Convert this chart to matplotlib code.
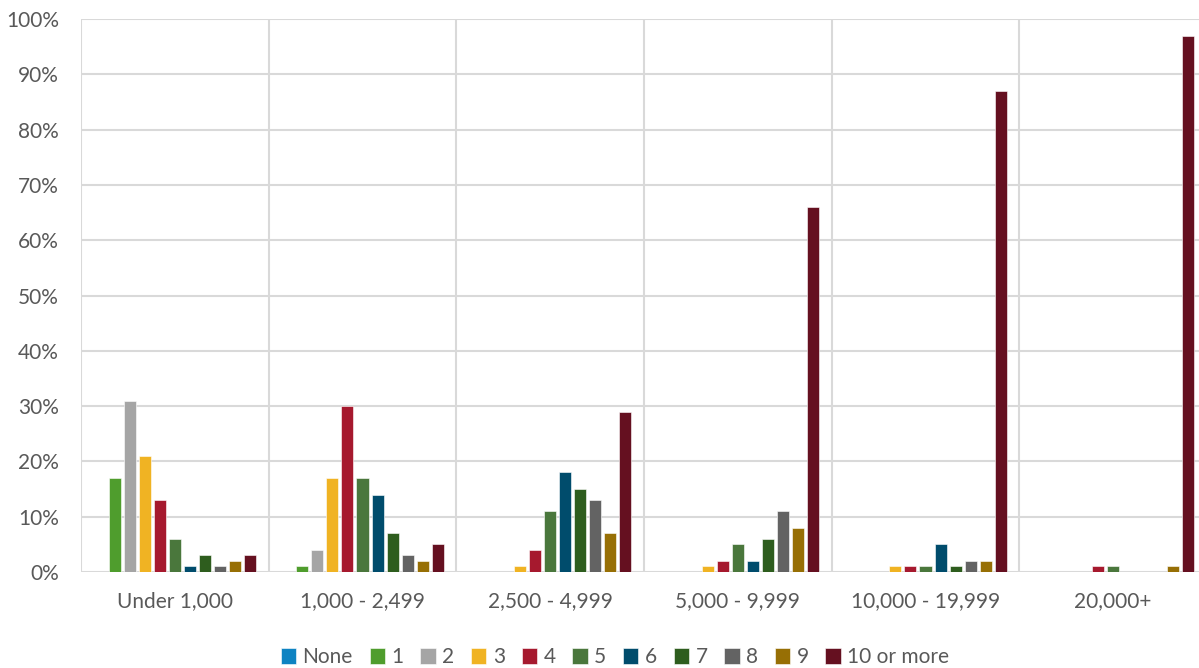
import numpy as np
import matplotlib
import matplotlib.pyplot as plt
from matplotlib.ticker import PercentFormatter

matplotlib.use("Agg")

categories = ["Under 1,000", "1,000 - 2,499", "2,500 - 4,999",
              "5,000 - 9,999", "10,000 - 19,999", "20,000+"]
series = ["None", "1", "2", "3", "4", "5", "6", "7", "8", "9", "10 or more"]

# share of each series per category, in percent
none_ = [0, 0, 0, 0, 0, 0]
one = [17, 1, 0, 0, 0, 0]
two = [31, 4, 0, 0, 0, 0]
three = [21, 17, 1, 1, 1, 0]
four = [13, 30, 4, 2, 1, 1]
five = [6, 17, 11, 5, 1, 1]
six = [1, 14, 18, 2, 5, 0]
seven = [3, 7, 15, 6, 1, 0]
eight = [1, 3, 13, 11, 2, 0]
nine = [2, 2, 7, 8, 2, 1]
ten_plus = [3, 5, 29, 66, 87, 97]

values = [none_, one, two, three, four, five, six, seven, eight, nine, ten_plus]
colors = ["#0E83C2", "#4F9D2D", "#A5A5A5", "#F0B323", "#A6192E", "#4A773C",
          "#004C6C", "#2E5D1E", "#636363", "#976F05", "#651020"]

plt.rcParams["font.family"] = ["Lato", "DejaVu Sans"]
text_color = "#595959"
grid_color = "#D9D9D9"

fig = plt.figure(figsize=(11.99, 6.68), dpi=100)
# right side of the plot runs past the figure edge
ax = fig.add_axes([81 / 1199, (668 - 572) / 668, 1126 / 1199, 553 / 668])

x = np.arange(len(categories))
slot = 0.08
width = 0.064
for i, (name, vals, c) in enumerate(zip(series, values, colors)):
    ax.bar(x + (i - 5) * slot, vals, width, color=c, label=name,
           edgecolor="white", linewidth=0.4, zorder=3)

ax.set_xlim(-0.5, len(categories) - 0.5)
ax.set_ylim(0, 100)
ax.set_yticks(np.arange(0, 101, 10))
ax.yaxis.set_major_formatter(PercentFormatter(decimals=0))
ax.set_xticks(x)
ax.set_xticklabels(categories)
ax.tick_params(axis="both", length=0, labelsize=15, colors=text_color)
ax.tick_params(axis="x", pad=14)
ax.tick_params(axis="y", pad=16)

ax.grid(axis="y", color=grid_color, linewidth=1.5, zorder=0)
for b in np.arange(-0.5, len(categories), 1.0):
    ax.axvline(b, color=grid_color, linewidth=1.5, zorder=0)
for s in ax.spines.values():
    s.set_visible(False)

fig.legend(loc="center", bbox_to_anchor=(615 / 1199, 1 - 657 / 668), ncol=11,
           frameon=False, fontsize=15, labelcolor=text_color,
           handlelength=0.75, handleheight=0.8, handletextpad=0.3,
           columnspacing=0.8)

fig.savefig("out.png", dpi=100)
